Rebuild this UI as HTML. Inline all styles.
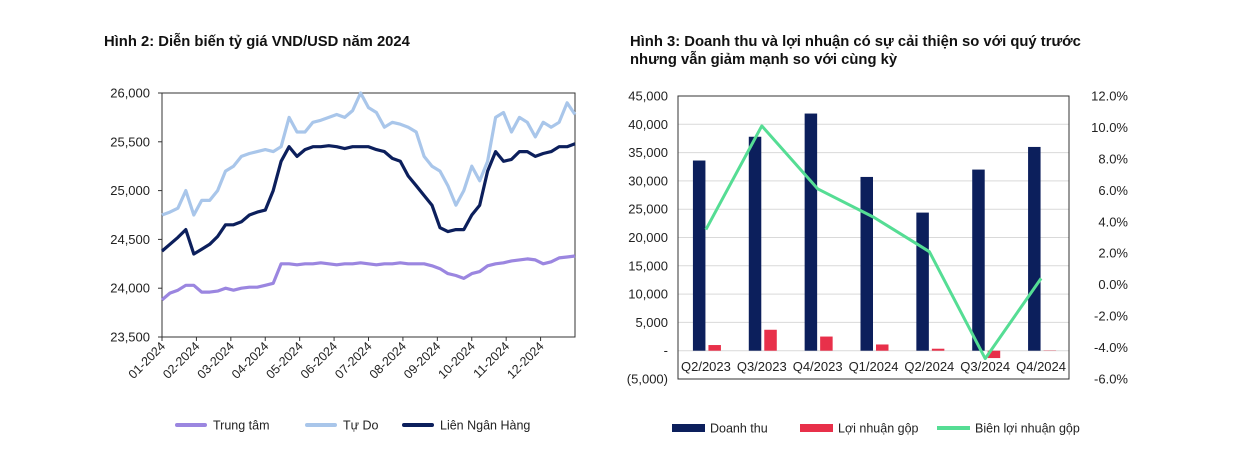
<!DOCTYPE html>
<html><head><meta charset="utf-8">
<style>
body{margin:0;background:#fff;width:1242px;height:467px;overflow:hidden;font-family:"Liberation Sans","Noto Sans CJK SC",sans-serif;}
svg text{font-family:"Liberation Sans","Noto Sans CJK SC",sans-serif;}
</style></head>
<body>
<svg id="svg" width="1242" height="467">
<text x="104" y="46" font-size="14.8" font-weight="bold" fill="#111">Hình 2: Diễn biến tỷ giá VND/USD năm 2024</text>
<text x="630" y="46" font-size="14.8" font-weight="bold" fill="#111">Hình 3: Doanh thu và lợi nhuận có sự cải thiện so với quý trước</text>
<text x="630" y="64" font-size="14.8" font-weight="bold" fill="#111">nhưng vẫn giảm mạnh so với cùng kỳ</text>
<g id="left"></g>
<g id="right"></g>
</svg>
<script>
// ---- Left chart data (weekly) ----
const monthLabels=["01-2024","02-2024","03-2024","04-2024","05-2024","06-2024","07-2024","08-2024","09-2024","10-2024","11-2024","12-2024"];
const leftTicks=[23500,24000,24500,25000,25500,26000];
const tuDo=[24750,24780,24820,25000,24750,24900,24900,25000,25200,25250,25350,25380,25400,25420,25400,25450,25750,25600,25600,25700,25720,25750,25780,25750,25820,26000,25850,25800,25650,25700,25680,25650,25600,25350,25250,25200,25050,24850,25000,25250,25100,25300,25750,25800,25600,25750,25700,25550,25700,25650,25700,25900,25780];
const lienNH=[24380,24450,24520,24600,24350,24400,24450,24530,24650,24650,24680,24750,24780,24800,25000,25300,25450,25350,25420,25450,25450,25460,25450,25430,25450,25450,25450,25420,25400,25330,25300,25150,25050,24950,24850,24620,24580,24600,24600,24750,24850,25200,25400,25300,25320,25400,25400,25350,25380,25400,25450,25450,25480];
const trungTam=[23880,23950,23980,24030,24030,23960,23960,23970,24000,23980,24000,24010,24010,24030,24050,24250,24250,24240,24250,24250,24260,24250,24240,24250,24250,24260,24250,24240,24250,24250,24260,24250,24250,24250,24230,24200,24150,24130,24100,24150,24170,24230,24250,24260,24280,24290,24300,24290,24250,24270,24310,24320,24330];

// ---- Right chart data ----
const quarters=["Q2/2023","Q3/2023","Q4/2023","Q1/2024","Q2/2024","Q3/2024","Q4/2024"];
const revenue=[33600,37800,41900,30700,24400,32000,36000];
const grossProfit=[1000,3700,2500,1100,350,-1300,50];
const margin=[3.5,10.1,6.1,4.3,2.1,-4.7,0.4];
const rightTicks=[-5000,0,5000,10000,15000,20000,25000,30000,35000,40000,45000];
const pctTicks=[-6,-4,-2,0,2,4,6,8,10,12];

const NS="http://www.w3.org/2000/svg";
function mk(parent,tag,attrs,text){const e=document.createElementNS(NS,tag);for(const k in attrs)e.setAttribute(k,attrs[k]);if(text!==undefined)e.textContent=text;parent.appendChild(e);return e;}
const fmt=v=>v.toLocaleString("en-US");

// ===== Left chart =====
const L=document.getElementById("left");
const lx0=162,lx1=575,ly0=93,ly1=337;
const ly=v=>ly1-(v-23500)/(26000-23500)*(ly1-ly0);
const lxw=w=>lx0+w/(tuDo.length-1)*(lx1-lx0);
const lxm=m=>lx0+m/12*(lx1-lx0);
let f=mk(L,"rect",{x:lx0,y:ly0,width:lx1-lx0,height:ly1-ly0,fill:"none",stroke:"#333","stroke-width":1});


leftTicks.forEach(v=>{
 let t=mk(L,"line",{x1:lx0-4,x2:lx0,y1:ly(v),y2:ly(v),stroke:"#333"});
 
 
 let l=mk(L,"text",{x:lx0-12,y:ly(v)+4.5,"text-anchor":"end","font-size":"13",fill:"#222"},fmt(v));
 
 
});
monthLabels.forEach((m,i)=>{
 const x=lxm(i);
 let t=mk(L,"line",{x1:x,x2:x,y1:ly1,y2:ly1+4,stroke:"#333"});
 
 
 let l=mk(L,"text",{x:x+4,y:ly1+10,"text-anchor":"end","font-size":"12.5",fill:"#222",transform:`rotate(-45 ${x+4} ${ly1+10})`},m);
 
 
});
function series(arr,color,name){
 const d=arr.map((v,i)=>(i?"L":"M")+lxw(i).toFixed(1)+","+ly(v).toFixed(1)).join("");
 let p=mk(L,"path",{d:d,fill:"none",stroke:color,"stroke-width":3.2,"stroke-linejoin":"round"});
 
 
}
series(trungTam,"#9b86e0","line-trung-tam");
series(tuDo,"#a9c6ea","line-tu-do");
series(lienNH,"#0c1f5c","line-lien-ngan-hang");
[["Trung tâm","#9b86e0",177],["Tự Do","#a9c6ea",307],["Liên Ngân Hàng","#0c1f5c",404]].forEach(([n,c,x])=>{
 let s=mk(L,"line",{x1:x,x2:x+28,y1:425,y2:425,stroke:c,"stroke-width":4,"stroke-linecap":"round"});
 
 
 let t=mk(L,"text",{x:x+36,y:429.5,"font-size":"12.5",fill:"#222"},n);
 
 
});

// ===== Right chart =====
const R=document.getElementById("right");
const rx0=678,rx1=1069,ry0=96,ry1=379;
const ry=v=>ry1-(v+5000)/50000*(ry1-ry0);
const rp=p=>ry1-(p+6)/18*(ry1-ry0);
const bw=(rx1-rx0)/quarters.length;
const cx=i=>rx0+bw*(i+0.5);
rightTicks.forEach(v=>{
 if(v!==-5000&&v!==45000){let g=mk(R,"line",{x1:rx0,x2:rx1,y1:ry(v),y2:ry(v),stroke:"#d9d9d9","stroke-width":1});
 
 }
 let l=mk(R,"text",{x:668,y:ry(v)+4.5,"text-anchor":"end","font-size":"13",fill:"#222"},v===0?"-":(v<0?"("+fmt(-v)+")":fmt(v)));
 
 
});
pctTicks.forEach(p=>{
 let l=mk(R,"text",{x:1128,y:rp(p)+4.5,"text-anchor":"end","font-size":"13",fill:"#222"},p.toFixed(1)+"%");
 
 
});
quarters.forEach((q,i)=>{
 let b=mk(R,"rect",{x:cx(i)-13,y:ry(revenue[i]),width:12.5,height:ry(0)-ry(revenue[i]),fill:"#0c1f5c"});
 
 
 const g=grossProfit[i];
 let r=mk(R,"rect",{x:cx(i)+2.5,y:Math.min(ry(g),ry(0)),width:12.5,height:Math.abs(ry(0)-ry(g)),fill:"#e8304a"});
 
 
 let t=mk(R,"text",{x:cx(i),y:371,"text-anchor":"middle","font-size":"13",fill:"#222"},q);
 
 
});
let fr=mk(R,"rect",{x:rx0,y:ry0,width:rx1-rx0,height:ry1-ry0,fill:"none",stroke:"#333","stroke-width":1});


let ml=mk(R,"path",{d:margin.map((p,i)=>(i?"L":"M")+cx(i).toFixed(1)+","+rp(p).toFixed(1)).join(""),fill:"none",stroke:"#55dd94","stroke-width":3,"stroke-linejoin":"round"});


[["Doanh thu","#0c1f5c",672,"rect"],["Lợi nhuận  gộp","#e8304a",800,"rect"],["Biên lợi nhuận  gộp","#55dd94",937,"line"]].forEach(([n,c,x,k])=>{
 let s;
 if(k==="rect") s=mk(R,"rect",{x:x,y:424,width:33,height:8,fill:c});
 else s=mk(R,"line",{x1:x,x2:x+33,y1:428,y2:428,stroke:c,"stroke-width":4});
 
 
 let t=mk(R,"text",{x:x+38,y:432.5,"font-size":"12.5",fill:"#222","xml:space":"preserve"},n);
 
 
});
</script>
</body></html>
